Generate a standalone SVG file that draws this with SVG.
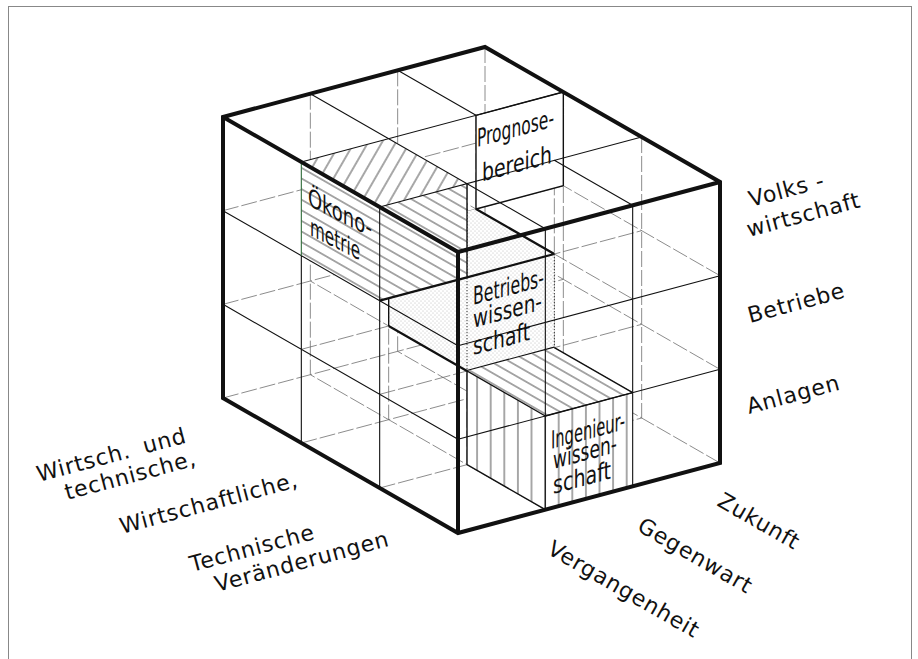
<svg xmlns="http://www.w3.org/2000/svg" width="918" height="659" viewBox="0 0 918 659">
<defs>
<style>
.heavy{stroke:#111;stroke-width:4;fill:none;stroke-linejoin:miter}
.surf{stroke:#111;stroke-width:1.1;fill:none}
.hid{stroke:#666;stroke-width:0.75;fill:none;stroke-dasharray:16 3}
.edge{stroke:#111;stroke-width:1.4;fill:none}
.bold{stroke:#111;stroke-width:2.2;fill:none}
.dot{stroke:#333;stroke-width:1;fill:none;stroke-dasharray:1.2 1.8}
.face{fill:#fff;stroke:none}
.cl{font-family:"DejaVu Sans",sans-serif;font-size:25px;fill:#111}
.lbl{font-family:"DejaVu Sans",sans-serif;font-size:22px;fill:#111;letter-spacing:0.8px}
</style>
<pattern id="hL" width="20" height="9.2" patternUnits="userSpaceOnUse" patternTransform="rotate(29.87)"><path d="M0 4.6H20" stroke="#222" stroke-width="0.8"/></pattern>
<pattern id="hD" width="20" height="12" patternUnits="userSpaceOnUse" patternTransform="rotate(-60)"><path d="M0 6H20" stroke="#222" stroke-width="0.8"/></pattern>
<pattern id="hV" width="13.6" height="20" patternUnits="userSpaceOnUse" patternTransform="translate(551.9 0)"><path d="M6.8 0V20" stroke="#222" stroke-width="0.8"/></pattern>
<pattern id="dots" width="4" height="4" patternUnits="userSpaceOnUse"><circle cx="1" cy="1" r="0.45" fill="#777"/><circle cx="3" cy="3" r="0.45" fill="#777"/></pattern>
</defs>
<rect width="918" height="659" fill="#fff"/>
<rect x="8.5" y="6.5" width="903" height="660" fill="none" stroke="#888" stroke-width="1"/>

<g id="hidden-grid" class="hid">
<path d="M467 183.67V464.67M554.33 160.33V441.33M641.67 137V418M388.67 138.67V419.67M476 115.33V396.33M563.33 92V373M310.33 93.67V374.67M397.67 70.33V351.33M485 47V328"/>
<path d="M545.33 322.33L310.33 187.33M545.33 416L310.33 281M545.33 509.67L310.33 374.67M632.67 299L397.67 164M632.67 392.67L397.67 257.67M632.67 486.33L397.67 351.33M720 275.67L485 140.67M720 369.33L485 234.33M720 463L485 328"/>
<path d="M379.67 300.67L641.67 230.67M379.67 394.33L641.67 324.33M379.67 488L641.67 418M301.33 255.67L563.33 185.67M301.33 349.33L563.33 279.33M301.33 443L563.33 373M223 210.67L485 140.67M223 304.33L485 234.33M223 398L485 328"/>
</g>

<g id="betriebswissenschaft">
<path class="face" d="M467 277.33L388.67 232.33L476 209L554.33 254ZM467 277.33L388.67 232.33V326L467 371ZM467 277.33L554.33 254V347.67L467 371Z"/>
<path fill="url(#dots)" d="M467 277.33L388.67 232.33L476 209L554.33 254ZM467 277.33L388.67 232.33V326L467 371ZM467 277.33L554.33 254V347.67L467 371Z"/>
<path class="bold" d="M467 277.33L554.33 254M467 371L554.33 347.67M476 209L554.33 254M388.67 326L467 371"/>
<path class="edge" d="M388.67 232.33V326"/>
<path class="dot" d="M467 209V371M554.33 254V347.67"/>
<g class="cl">
<text transform="translate(473 305) skewY(-15)" textLength="71" lengthAdjust="spacingAndGlyphs">Betriebs-</text>
<text transform="translate(473 328) skewY(-15)" textLength="69" lengthAdjust="spacingAndGlyphs">wissen-</text>
<text transform="translate(473 355) skewY(-15)" textLength="57" lengthAdjust="spacingAndGlyphs">schaft</text>
</g>
</g>

<g id="oekonometrie">
<path class="face" d="M301.33 162L388.67 138.67L467 183.67L379.67 207ZM301.33 162L379.67 207V300.67L301.33 255.67ZM379.67 207L467 183.67V277.33L379.67 300.67Z"/>
<path fill="url(#hD)" d="M301.33 162L388.67 138.67L467 183.67L379.67 207Z"/>
<path fill="url(#hL)" d="M301.33 162L379.67 207V300.67L301.33 255.67ZM379.67 207L467 183.67V277.33L379.67 300.67Z"/>
<path class="edge" d="M467 183.67V277.33"/>
<path class="bold" d="M379.67 300.67L467 277.33"/>
<g class="cl">
<text transform="translate(308 205) skewY(27)" textLength="64" lengthAdjust="spacingAndGlyphs">Ökono-</text>
<text transform="translate(310 235) skewY(27)" textLength="50" lengthAdjust="spacingAndGlyphs">metrie</text>
</g>
</g>

<g id="ingenieurwissenschaft">
<path class="face" d="M545.33 416L467 371L554.33 347.67L632.67 392.67ZM545.33 416L467 371V464.67L545.33 509.67ZM545.33 416L632.67 392.67V486.33L545.33 509.67Z"/>
<path fill="url(#hL)" d="M545.33 416L467 371L554.33 347.67L632.67 392.67Z"/>
<path fill="url(#hV)" d="M545.33 416L467 371V464.67L545.33 509.67ZM545.33 416L632.67 392.67V486.33L545.33 509.67Z"/>
<path class="edge" d="M545.33 416L467 371V464.67L545.33 509.67M554.33 347.67L632.67 392.67M545.33 416L632.67 392.67"/>
<g class="cl">
<text transform="translate(551 449) skewY(-15)" textLength="74" lengthAdjust="spacingAndGlyphs">Ingenieur-</text>
<text transform="translate(553 469) skewY(-15)" textLength="64" lengthAdjust="spacingAndGlyphs">wissen-</text>
<text transform="translate(553 494) skewY(-15)" textLength="58" lengthAdjust="spacingAndGlyphs">schaft</text>
</g>
</g>

<g id="prognosebereich">
<path class="face" d="M476 115.33L563.33 92V185.67L476 209Z"/>
<path class="edge" d="M476 115.33L563.33 92V185.67L476 209Z"/>
<g class="cl">
<text transform="translate(477 147) skewY(-15)" textLength="77" lengthAdjust="spacingAndGlyphs">Prognose-</text>
<text transform="translate(482 181.5) skewY(-15)" textLength="70" lengthAdjust="spacingAndGlyphs">bereich</text>
</g>
</g>

<g id="connectors">
<g class="surf">
<path d="M545.33 228.67L310.33 93.67M397.67 70.33L476 115.33M554.33 160.33L632.67 205.33M379.67 207L641.67 137M301.33 162L563.33 92"/>
<path d="M458 345.67L223 210.67M458 439.33L223 304.33M379.67 207V488M301.33 255.67V443"/>
<path d="M458 345.67L720 275.67M458 439.33L720 369.33M545.33 228.67V509.67M632.67 205.33V486.33"/>
</g>
<path d="M301.33 162V255.67" stroke="#2f6b3a" stroke-width="1.1"/>
<path class="heavy" d="M223 117L485 47L720 182V463L458 533L223 398ZM223 117L458 252L720 182M458 252V533"/>
</g>

<g id="labels" class="lbl">
<text transform="translate(751 207) rotate(-15)">Volks -</text>
<text transform="translate(749 237) rotate(-15)">wirtschaft</text>
<text transform="translate(750 323) rotate(-15)">Betriebe</text>
<text transform="translate(749 414) rotate(-15)">Anlagen</text>
<text transform="translate(39 482) rotate(-15)" word-spacing="6">Wirtsch. und</text>
<text transform="translate(67 500) rotate(-15)">technische,</text>
<text transform="translate(122 534) rotate(-15)">Wirtschaftliche,</text>
<text transform="translate(192 572) rotate(-15)">Technische</text>
<text transform="translate(217 592) rotate(-15)">Veränderungen</text>
<text transform="translate(716 505) rotate(30)">Zukunft</text>
<text transform="translate(636 530) rotate(30)">Gegenwart</text>
<text transform="translate(546 553) rotate(30)">Vergangenheit</text>
</g>
</svg>
